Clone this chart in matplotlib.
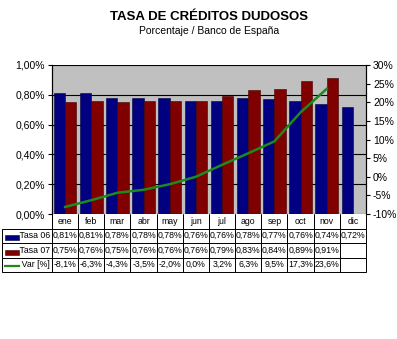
import numpy as np
import matplotlib.pyplot as plt
from matplotlib.patches import Rectangle
from matplotlib.lines import Line2D

plt.rcParams['font.family'] = ['Liberation Sans', 'DejaVu Sans']

meses = ['ene', 'feb', 'mar', 'abr', 'may', 'jun', 'jul', 'ago', 'sep', 'oct', 'nov', 'dic']
tasa06 = [0.81, 0.81, 0.78, 0.78, 0.78, 0.76, 0.76, 0.78, 0.77, 0.76, 0.74, 0.72]
tasa07 = [0.75, 0.76, 0.75, 0.76, 0.76, 0.76, 0.79, 0.83, 0.84, 0.89, 0.91]
var = [-8.1, -6.3, -4.3, -3.5, -2.0, 0.0, 3.2, 6.3, 9.5, 17.3, 23.6]
series = ['Tasa 06', 'Tasa 07', 'Var [%]']

c06 = '#000080'
c07 = '#800000'
cvar = '#1e8a1e'

fig = plt.figure(figsize=(3.97, 3.39), dpi=100)
ax = fig.add_axes([52/397, 1-214/339, 314/397, 149/339])
ax.set_facecolor('#c0c0c0')

x = np.arange(len(meses))
w = 0.43
ax.bar(x[:len(tasa06)] - w/2, tasa06, w, color=c06, edgecolor='#000040', linewidth=0.4, zorder=3)
ax.bar(x[:len(tasa07)] + w/2, tasa07, w, color=c07, edgecolor='#400000', linewidth=0.4, zorder=3)
ax.set_xlim(-0.5, len(meses)-0.5)
ax.set_ylim(0, 1.0)
ax.set_yticks(np.arange(0, 1.01, 0.2))
ax.set_yticklabels([f'{v:.2f}%'.replace('.', ',') for v in np.arange(0, 1.01, 0.2)], fontsize=7.5)
ax.yaxis.grid(True, color='black', linewidth=0.8, zorder=1)
ax.set_axisbelow(True)
ax.set_xticks([])
for s in ['top', 'bottom']:
    ax.spines[s].set_visible(False)
ax.tick_params(axis='y', length=3, width=0.8, pad=2)

ax2 = ax.twinx()
ax2.plot(x[:len(var)], var, color=cvar, linewidth=1.8, zorder=4)
ax2.set_ylim(-10, 30)
ax2.set_yticks(np.arange(-10, 31, 5))
ax2.set_yticklabels([f'{v}%' for v in range(-10, 31, 5)], fontsize=7.5)
for s in ['top', 'bottom']:
    ax2.spines[s].set_visible(False)
ax2.tick_params(axis='y', length=3, width=0.8, pad=2)

def fmt(v):
    return f'{v:.2f}%'.replace('.', ',')

def fmtv(v):
    return f'{v:.1f}%'.replace('.', ',')

rows = [
    ['       ' + series[0]] + [fmt(v) for v in tasa06] + [''] * (12 - len(tasa06)),
    ['       ' + series[1]] + [fmt(v) for v in tasa07] + [''] * (12 - len(tasa07)),
    ['       ' + series[2]] + [fmtv(v) for v in var] + [''] * (12 - len(var)),
]

tb = ax.table(cellText=rows, colLabels=[''] + meses, cellLoc='center',
              colWidths=[50/314] + [1/12]*12,
              bbox=[(2-52)/314, (214-272)/149, 364/314, 58/149])
tb.auto_set_font_size(False)
tb.set_fontsize(6.3)
for (r, c), cell in tb.get_celld().items():
    cell.set_linewidth(0.7)
    cell.set_facecolor('white')
    if r == 0:
        cell.visible_edges = 'BLR'
        if c == 0:
            cell.visible_edges = 'BR'
            cell.set_facecolor('none')
    if c == 0 and r > 0:
        cell._loc = 'left'
        cell.PAD = 0.02

# legend keys in row label cells
ys = [237.5, 252, 265.5]
fig.add_artist(Rectangle((5/397, 1-(ys[0]+2.5)/339), 14/397, 5/339, facecolor=c06,
                         edgecolor='#000040', linewidth=0.4, transform=fig.transFigure))
fig.add_artist(Rectangle((5/397, 1-(ys[1]+2.5)/339), 14/397, 5/339, facecolor=c07,
                         edgecolor='#400000', linewidth=0.4, transform=fig.transFigure))
fig.add_artist(Line2D([5/397, 19/397], [1-ys[2]/339, 1-ys[2]/339], color=cvar,
                      linewidth=1.6, transform=fig.transFigure))

fig.text(209/397, 1-17/339, 'TASA DE CRÉDITOS DUDOSOS', ha='center', va='center',
         fontsize=9.5, fontweight='bold')
fig.text(209/397, 1-31/339, 'Porcentaje / Banco de España', ha='center', va='center',
         fontsize=7.5)

fig.savefig('out.png', dpi=100)
